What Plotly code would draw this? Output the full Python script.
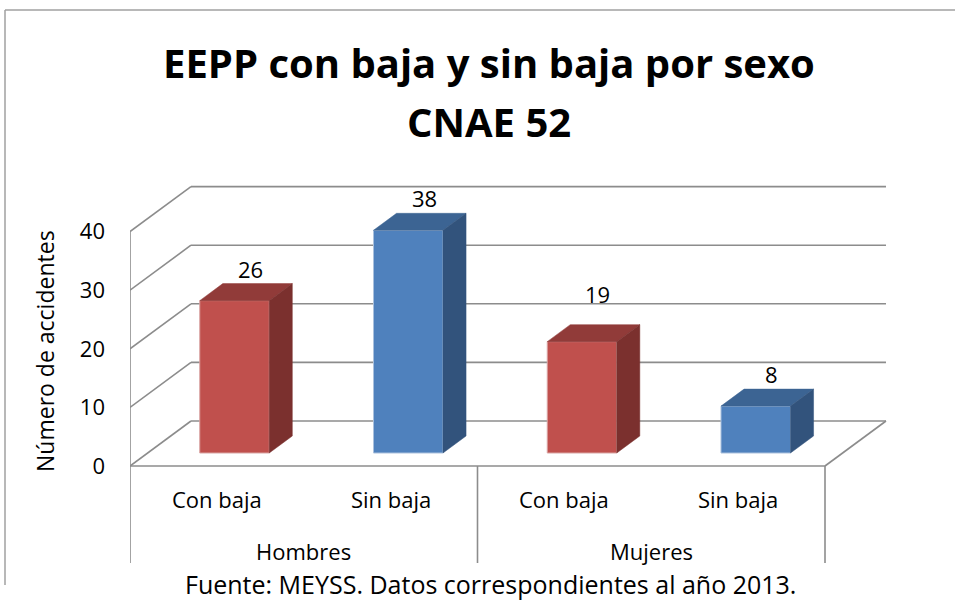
import plotly.graph_objects as go

# ---------------- data ----------------
groups = ["Hombres", "Mujeres"]
subcats = ["Con baja", "Sin baja", "Con baja", "Sin baja"]
values = [26, 38, 19, 8]
y_ticks = [0, 10, 20, 30, 40]
title_lines = ["EEPP con baja y sin baja por sexo", "CNAE 52"]
y_title = "Número de accidentes"
source_note = "Fuente: MEYSS. Datos correspondientes al año 2013."

# ---------------- style ----------------
FONT = "Open Sans"
FRONT = {"Con baja": "#C0504D", "Sin baja": "#4F81BD"}
SIDE = {"Con baja": "#7B302E", "Sin baja": "#32537C"}
TOP = {"Con baja": "#913B39", "Sin baja": "#3C6493"}
EDGE = {"Con baja": "#D9A3A2", "Sin baja": "#A9C0DD"}
GRID = "#8C8C8C"
LABEL_LIFT = [0, 0, 16, 0]  # extra px lift of the data labels

# 3-D projection: depth d in [0,1] shifts x by d*KX (category units), y by d*KY (value units)
KX, KY = 0.351, 7.68
D0, D1 = 0.289, 0.667      # bar depth extent
BW = 0.40                  # bar width (category units)

# plot area geometry (pixels)
L, R, T, B = 130, 65, 180, 3
W, H = 955, 603
PX_X = 173.75              # px per category
PX_Y = 5.86                # px per value unit
Y0 = 466                   # pixel row of value 0 at front
XMAX = (W - L - R) / PX_X
YMAX = (Y0 - T) / PX_Y
YMIN = -(H - B - Y0) / PX_Y


def xp(px):
    return (px - L) / (W - L - R)


def yp(py):
    return (H - B - py) / (H - T - B)


def yv(py):
    return (Y0 - py) / PX_Y


n = len(values)
fig = go.Figure()

# front faces
fig.add_trace(go.Bar(
    x=[i + 0.5 + D0 * KX for i in range(n)],
    y=values,
    base=D0 * KY,
    width=BW,
    marker=dict(color=[FRONT[c] for c in subcats],
                line=dict(color=[EDGE[c] for c in subcats], width=1)),
    hoverinfo="skip",
    showlegend=False,
))

# top and side faces
for i, (c, v) in enumerate(zip(subcats, values)):
    xl = i + 0.5 - BW / 2
    xr = i + 0.5 + BW / 2
    top_x = [xl + D0 * KX, xr + D0 * KX, xr + D1 * KX, xl + D1 * KX, xl + D0 * KX]
    top_y = [v + D0 * KY, v + D0 * KY, v + D1 * KY, v + D1 * KY, v + D0 * KY]
    fig.add_trace(go.Scatter(x=top_x, y=top_y, mode="lines", fill="toself",
                             fillcolor=TOP[c], line=dict(color=TOP[c], width=0.5),
                             hoverinfo="skip", showlegend=False))
    side_x = [xr + D0 * KX, xr + D1 * KX, xr + D1 * KX, xr + D0 * KX, xr + D0 * KX]
    side_y = [D0 * KY, D1 * KY, v + D1 * KY, v + D0 * KY, D0 * KY]
    fig.add_trace(go.Scatter(x=side_x, y=side_y, mode="lines", fill="toself",
                             fillcolor=SIDE[c], line=dict(color=SIDE[c], width=0.5),
                             hoverinfo="skip", showlegend=False))

shapes = []
line_style = dict(color=GRID, width=1.6)
# back wall gridlines and left wall diagonals
for t in y_ticks:
    shapes.append(dict(type="line", xref="x", yref="y", layer="below",
                       x0=KX, x1=n + KX, y0=t + KY, y1=t + KY, line=line_style))
    shapes.append(dict(type="line", xref="x", yref="y", layer="below",
                       x0=0, x1=KX, y0=t, y1=t + KY, line=line_style))
# floor front edge and right edge
shapes.append(dict(type="line", xref="x", yref="y", layer="below",
                   x0=0, x1=n, y0=0, y1=0, line=line_style))
shapes.append(dict(type="line", xref="x", yref="y", layer="below",
                   x0=n, x1=n + KX, y0=0, y1=KY, line=line_style))
# category axis dividers (left one also forms the front wall edge)
y_div = yv(563)
shapes.append(dict(type="line", xref="x", yref="y", layer="below",
                   x0=0, x1=0, y0=y_div, y1=max(y_ticks), line=line_style))
for g in range(1, len(groups) + 1):
    xg = g * n / len(groups)
    shapes.append(dict(type="line", xref="x", yref="y", layer="below",
                       x0=xg, x1=xg, y0=y_div, y1=0, line=line_style))
# outer chart frame (cropped)
frame = dict(color="#A0A0A0", width=1.5)
shapes.append(dict(type="line", xref="paper", yref="paper",
                   x0=xp(5), x1=xp(5), y0=yp(10), y1=yp(585), line=frame))
shapes.append(dict(type="line", xref="paper", yref="paper",
                   x0=xp(5), x1=xp(956), y0=yp(10), y1=yp(10), line=frame))

ann = []
fs = 22
# data labels
for i, v in enumerate(values):
    ann.append(dict(x=i + 0.5 + 0.55 * KX, y=v + D1 * KY, xref="x", yref="y",
                    text=str(v), showarrow=False, xanchor="center", yanchor="middle",
                    yshift=15 + LABEL_LIFT[i],
                    font=dict(family=FONT, size=fs, color="#000")))
# category labels
for i, c in enumerate(subcats):
    ann.append(dict(x=i + 0.5, y=yv(499), xref="x", yref="y", text=c,
                    showarrow=False, xanchor="center", yanchor="middle",
                    font=dict(family=FONT, size=fs, color="#000")))
per = n // len(groups)
for g, name in enumerate(groups):
    ann.append(dict(x=g * per + per / 2, y=yv(551), xref="x", yref="y", text=name,
                    showarrow=False, xanchor="center", yanchor="middle",
                    font=dict(family=FONT, size=fs, color="#000")))
# titles
for k, (line, py) in enumerate(zip(title_lines, [62, 121])):
    ann.append(dict(x=xp(489), y=yp(py), xref="paper", yref="paper",
                    text="<b>" + line + "</b>", showarrow=False,
                    xanchor="center", yanchor="middle",
                    font=dict(family=FONT, size=40, color="#000")))
ann.append(dict(x=xp(45), y=yp(351), xref="paper", yref="paper", text=y_title,
                textangle=-90, showarrow=False, xanchor="center", yanchor="middle",
                font=dict(family=FONT, size=23, color="#000")))
ann.append(dict(x=xp(490), y=yp(603), xref="paper", yref="paper", text=source_note,
                showarrow=False, xanchor="center", yanchor="bottom",
                font=dict(family=FONT, size=25, color="#000")))

fig.update_layout(
    width=W, height=H, autosize=False,
    margin=dict(l=L, r=R, t=T, b=B, pad=0),
    paper_bgcolor="white", plot_bgcolor="white",
    showlegend=False,
    shapes=shapes, annotations=ann,
    xaxis=dict(range=[0, XMAX], visible=False, fixedrange=True),
    yaxis=dict(range=[YMIN, YMAX], showgrid=False, zeroline=False, showline=False,
               tickvals=y_ticks, ticks="", ticklabelstandoff=24,
               tickfont=dict(family=FONT, size=fs, color="#000"), fixedrange=True),
)

fig.write_html("out.html", config={"displayModeBar": False},
               post_script="document.body.style.margin='0';document.body.style.padding='0';")
